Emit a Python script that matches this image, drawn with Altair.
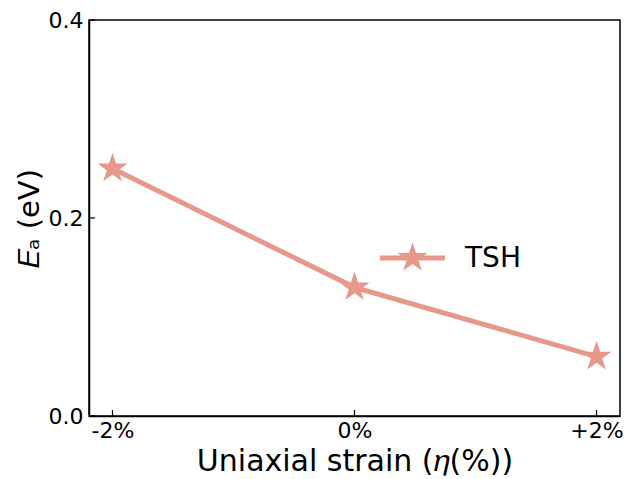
import altair as alt
import pandas as pd

categories = ["-2%", "0%", "+2%"]
values = [0.25, 0.13, 0.06]
series_name = ["TSH"]
y_ticks = [0.0, 0.2, 0.4]

COLOR = "#E8978B"
FONT = "DejaVu Sans"
STAR = ("M0,-1L0.2245,-0.309L0.951,-0.309L0.363,0.118L0.588,0.809L0,0.382"
        "L-0.588,0.809L-0.363,0.118L-0.951,-0.309L-0.2245,-0.309Z")

df = pd.DataFrame({"strain": categories, "Ea": values})
yt = pd.DataFrame({"v": y_ticks})
xt = pd.DataFrame({"strain": categories})
leg = pd.DataFrame({"name": series_name})

W, H = 531, 396

xscale = alt.Scale(type="point", padding=0.097)
yscale = alt.Scale(domain=[0, 0.4])

xenc = alt.X("strain:N", sort=categories, scale=xscale,
             axis=alt.Axis(title="Uniaxial strain (𝜂(%))", labelAngle=0, ticks=False,
                           labelPadding=4, titlePadding=5, titleFontSize=30))
yenc = alt.Y("Ea:Q", scale=yscale,
             axis=alt.Axis(title="𝐸ₐ (eV)", values=y_ticks, format=".1f", ticks=False,
                           grid=False, labelPadding=6, titlePadding=4, titleFontSize=29))

line = alt.Chart(df).mark_line(strokeWidth=5, color=COLOR).encode(x=xenc, y=yenc)

points = alt.Chart(df).mark_point(shape=STAR, size=1000, filled=True, opacity=1,
                                  color=COLOR).encode(
    x=alt.X("strain:N", sort=categories, scale=xscale),
    y=alt.Y("Ea:Q", scale=yscale))

ytick = alt.Chart(yt).mark_rule(color="black", strokeWidth=1.2).encode(
    y=alt.Y("v:Q", scale=yscale), x=alt.value(0), x2=alt.value(6))
xtick = alt.Chart(xt).mark_rule(color="black", strokeWidth=1.2).encode(
    x=alt.X("strain:N", sort=categories, scale=xscale), y=alt.value(H), y2=alt.value(H - 6))

# legend drawn as marks
leg_line = alt.Chart(leg).mark_rule(color=COLOR, strokeWidth=5).encode(
    x=alt.value(291), x2=alt.value(356), y=alt.value(238))
leg_pt = alt.Chart(leg).mark_point(shape=STAR, size=1000, filled=True, opacity=1,
                                   color=COLOR).encode(x=alt.value(323.5), y=alt.value(238))
leg_txt = alt.Chart(leg).mark_text(align="left", baseline="middle", fontSize=28,
                                   font=FONT, color="black").encode(
    x=alt.value(376), y=alt.value(239), text="name:N")

chart = alt.layer(line, points, ytick, xtick, leg_line, leg_pt, leg_txt).properties(
    width=W, height=H,
    padding={"left": 89, "top": 20, "right": 6, "bottom": 63},
    autosize=alt.AutoSizeParams(type="none"),
    background="white",
).configure_view(stroke="black", strokeWidth=1.5).configure_axis(
    labelFont=FONT, titleFont=FONT, labelFontSize=22, titleFontSize=28,
    titleFontWeight="normal", domainColor="black", domainWidth=1.5,
    labelColor="black", titleColor="black")

chart.save("out.html", embed_options={"renderer": "svg", "actions": False})
